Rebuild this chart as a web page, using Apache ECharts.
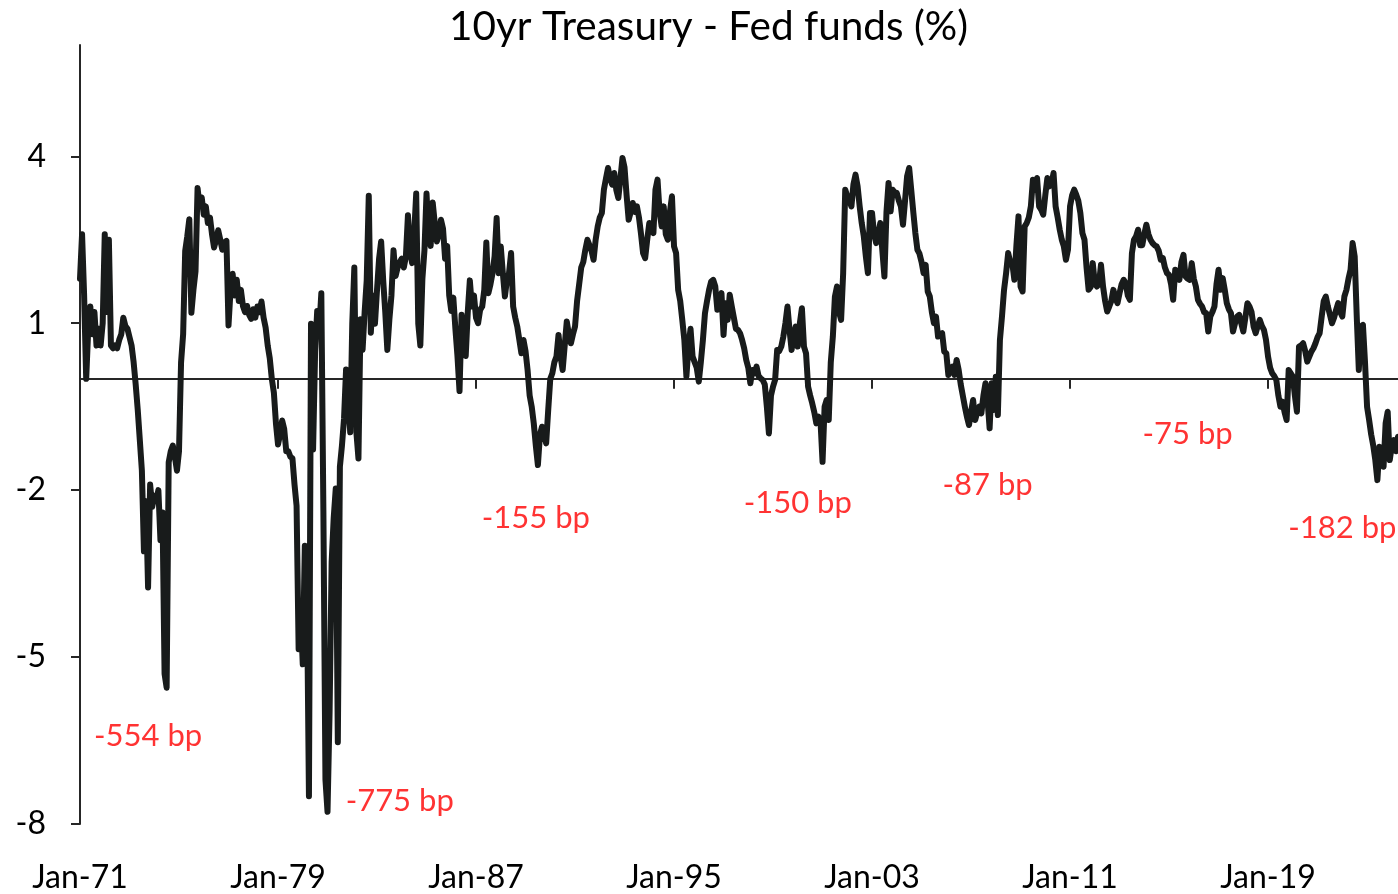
<!DOCTYPE html>
<html>
<head>
<meta charset="utf-8">
<script src="https://cdn.jsdelivr.net/npm/echarts@6/dist/echarts.min.js"></script>
<style>
html,body{margin:0;padding:0;background:#ffffff;}
#chart{width:1398px;height:894px;}
</style>
</head>
<body>
<div id="chart"></div>
<script>
// ---------- DATA ----------
const titleText = '10yr Treasury - Fed funds (%)';
const monthNames = ['Jan','Feb','Mar','Apr','May','Jun','Jul','Aug','Sep','Oct','Nov','Dec'];
const firstYear = 1971;

// 10yr Treasury minus Fed funds, %, monthly readings from the picture
const spread1971 = [1.8,2.6,1.5,0.0,0.9,1.3,0.8,1.2,0.6,0.9,0.6,1.0,
  2.6,1.2,2.5,0.6,0.55,0.6,0.55,0.7,0.8,1.1,0.95,0.9,
  0.75,0.6,0.3,-0.1,-0.56,-1.1,-1.65,-3.1,-2.2,-3.75,-1.9,-2.3,
  -2.1,-2.2,-2.0,-2.9,-2.4,-5.3,-5.55,-1.5,-1.3,-1.2,-1.4,-1.65,
  -1.3,0.3,0.8,2.3,2.56,2.87,1.19,1.6,1.93,3.43,3.1,3.26,
  2.95,3.1,2.8,2.9,2.6,2.36,2.5,2.67,2.5,2.32,2.45,2.48,
  0.96,1.6,1.89,1.5,1.78,1.4,1.6,1.31,1.2,1.31,1.15,1.08,
  1.25,1.1,1.3,1.2,1.39,1.1,0.92,0.6,0.37,0.0,-0.25,-0.8];
const spread1979 = [-1.18,-1.0,-0.75,-0.9,-1.3,-1.3,-1.4,-1.43,-1.9,-2.28,-4.86,-4.2,
  -5.13,-3.0,-3.7,-7.5,0.99,-1.27,0.5,1.22,0.9,1.54,-2.36,-7.2,
  -7.78,-6.0,-3.3,-2.5,-1.97,-6.53,-1.58,-1.2,-0.72,0.17,-0.3,-0.96,
  1.0,2.0,-0.96,-1.43,1.07,0.52,1.2,1.77,3.29,0.83,1.5,0.99,
  1.6,2.16,2.47,1.77,1.2,0.52,1.07,1.5,2.31,1.85,2.0,2.1,
  2.16,2.0,2.2,2.94,2.3,2.08,2.6,3.33,0.99,0.6,1.8,2.31,
  3.33,2.6,2.39,3.17,2.8,2.47,2.6,2.86,2.7,2.16,2.39,1.5,
  1.22,1.46,0.9,0.41,-0.22,1.15,0.6,0.41,1.2,1.77,1.3,1.5];
const spread1987 = [1.1,1.0,1.24,1.3,1.6,2.45,1.54,1.7,1.9,2.2,2.89,1.9,
  2.38,1.9,1.48,1.78,1.9,2.26,1.3,1.1,0.94,0.7,0.46,0.7,
  0.5,0.16,-0.3,-0.5,-0.8,-1.2,-1.55,-1.0,-0.86,-1.0,-1.16,-0.56,
  0.0,0.1,0.3,0.4,0.79,0.4,0.16,0.6,1.03,0.8,0.64,0.8,
  0.94,1.4,1.7,2.0,2.1,2.32,2.5,2.4,2.3,2.14,2.5,2.74,
  2.9,2.98,3.4,3.6,3.79,3.6,3.49,3.7,3.4,3.25,3.6,3.97,
  3.8,3.3,2.86,3.0,3.16,3.0,3.1,2.9,2.6,2.26,2.17,2.5,
  2.8,2.7,2.62,3.4,3.58,3.0,2.74,3.1,2.6,2.5,3.0,3.28];
const spread1995 = [2.38,2.26,1.6,1.4,1.06,0.7,0.04,0.58,0.9,0.4,0.3,0.2,
  -0.05,0.3,0.7,1.18,1.4,1.6,1.75,1.78,1.66,1.24,1.4,1.54,
  0.79,1.36,1.06,1.51,1.3,1.1,0.9,0.88,0.82,0.7,0.55,0.34,
  0.2,-0.08,0.16,0.1,0.22,0.05,0.01,-0.02,-0.1,-0.5,-0.98,-0.3,
  -0.14,-0.02,0.52,0.5,0.58,0.76,1.0,1.3,0.88,0.52,0.8,0.94,
  0.58,1.0,1.27,0.58,0.46,-0.14,-0.3,-0.44,-0.6,-0.8,-0.68,-0.75,
  -1.49,-0.5,-0.38,-0.74,0.3,0.76,1.48,1.66,1.2,1.06,1.9,3.4,
  3.28,3.2,3.1,3.5,3.67,3.46,3.1,2.8,2.56,2.2,1.9,2.98];
const spread2003 = [2.98,2.6,2.44,2.6,2.8,2.3,1.84,3.0,3.52,3.01,3.4,3.35,
  3.34,3.2,3.1,2.77,3.2,3.64,3.79,3.4,3.0,2.62,2.32,2.25,
  2.1,1.9,2.05,1.57,1.48,1.2,1.0,1.12,0.76,0.8,0.82,0.49,
  0.46,0.07,0.15,0.22,0.07,0.34,0.16,-0.1,-0.3,-0.5,-0.68,-0.83,
  -0.6,-0.38,-0.74,-0.6,-0.5,-0.62,-0.3,-0.08,-0.38,-0.89,-0.08,-0.56,
  0.04,-0.65,0.7,1.12,1.6,1.9,2.26,2.1,2.08,1.78,2.4,2.92,
  1.66,1.57,2.74,2.8,2.9,3.1,3.58,3.4,3.61,3.1,3.04,2.95,
  3.3,3.61,3.46,3.5,3.7,3.1,2.9,2.68,2.5,2.38,2.14,2.32];
const spread2011 = [3.1,3.3,3.4,3.31,3.2,2.98,2.62,2.5,2.0,1.6,1.65,2.08,
  1.72,1.66,1.7,2.05,1.66,1.4,1.21,1.3,1.4,1.6,1.45,1.36,
  1.54,1.7,1.78,1.72,1.5,1.42,2.26,2.5,2.56,2.68,2.4,2.4,
  2.6,2.77,2.6,2.5,2.44,2.4,2.38,2.3,2.14,2.17,2.0,1.9,
  1.87,1.7,1.42,1.96,1.85,1.78,2.1,2.23,1.84,1.8,1.78,2.08,
  1.8,1.66,1.42,1.35,1.3,1.2,1.18,0.85,1.12,1.2,1.3,1.7,
  1.96,1.6,1.81,1.6,1.36,1.25,1.18,0.85,1.0,1.12,1.15,1.0,
  0.85,1.1,1.36,1.3,1.2,0.94,0.82,0.95,1.06,0.95,0.88,0.7];
const spread2019 = [0.4,0.2,0.1,0.05,-0.02,-0.3,-0.5,-0.41,-0.6,-0.74,0.16,0.1,
  0.04,-0.3,-0.59,0.58,0.6,0.64,0.5,0.31,0.4,0.49,0.55,0.64,
  0.75,0.82,1.12,1.4,1.48,1.3,1.15,1.0,1.1,1.24,1.36,1.2,
  1.12,1.48,1.6,1.8,1.96,2.44,2.2,1.12,0.16,0.94,0.97,0.3,
  -0.5,-0.74,-1.0,-1.2,-1.46,-1.82,-1.22,-1.4,-1.58,-0.8,-0.59,-1.46,
  -1.2,-1.1,-1.3,-1.04];

const yTickValues = [-8, -5, -2, 1, 4];

const annotationText  = ['-554 bp', '-775 bp', '-155 bp', '-150 bp', '-87 bp', '-75 bp', '-182 bp'];
const annotationMonth = ['Oct-73', 'Dec-83', 'Jun-89', 'Jan-00', 'Sep-07', 'Oct-15', 'Jan-22'];
const annotationValue = [-6.41, -7.58, -2.5, -2.23, -1.91, -0.99, -2.68];

// ---------- BUILD ----------
const values = [].concat(spread1971, spread1979, spread1987, spread1995, spread2003, spread2011, spread2019);
const categories = values.map(function (_, i) {
  const yr = (firstYear + Math.floor(i / 12)) % 100;
  return monthNames[i % 12] + '-' + String(yr).padStart(2, '0');
});

const FONT = 'Lato, "Open Sans", sans-serif';
const AXIS_COLOR = '#262626';

const chart = echarts.init(document.getElementById('chart'), null, {renderer: 'canvas'});
chart.setOption({
  animation: false,
  backgroundColor: '#ffffff',
  title: {
    text: titleText,
    left: 444,
    top: 1,
    padding: [5, 5, 5, 5],
    textStyle: {fontFamily: FONT, fontSize: 40.5, fontWeight: 'normal', color: '#000000'}
  },
  grid: {left: 80, right: 0, top: 45, bottom: 70, containLabel: false, outerBoundsMode: 'none'},
  xAxis: [
    {
      type: 'category', data: categories, boundaryGap: false, position: 'bottom',
      axisLine: {show: true, onZero: true, lineStyle: {color: AXIS_COLOR, width: 2}},
      axisTick: {show: true, interval: 95, length: 10, lineStyle: {color: AXIS_COLOR, width: 2}},
      axisLabel: {show: false},
      splitLine: {show: false}
    },
    {
      type: 'category', data: categories, boundaryGap: false, position: 'bottom',
      axisLine: {show: false, onZero: false},
      axisTick: {show: false},
      axisLabel: {show: true, interval: 95, color: '#000000', fontFamily: FONT, fontSize: 32, margin: 38},
      splitLine: {show: false}
    }
  ],
  yAxis: {
    type: 'value', min: -8, max: 6, interval: 3,
    axisLine: {show: true, onZero: false, lineStyle: {color: AXIS_COLOR, width: 2}},
    axisTick: {show: true, length: 9, customValues: yTickValues, lineStyle: {color: AXIS_COLOR, width: 2}},
    axisLabel: {show: true, customValues: yTickValues, color: '#000000', fontFamily: FONT, fontSize: 32, margin: 34},
    splitLine: {show: false}
  },
  series: [
    {
      name: 'spread', type: 'line', xAxisIndex: 0, yAxisIndex: 0,
      data: values, showSymbol: false, symbol: 'none',
      lineStyle: {color: '#181b1b', width: 6, cap: 'round', join: 'round'},
      z: 3
    },
    {
      name: 'annotations', type: 'scatter', xAxisIndex: 0, yAxisIndex: 0,
      symbolSize: 1, itemStyle: {color: 'rgba(0,0,0,0)'},
      data: annotationMonth.map(function (m, k) { return {name: annotationText[k], value: [m, annotationValue[k]]}; }),
      label: {show: true, position: 'inside', formatter: '{b}', color: '#ff0000', fontFamily: FONT, fontSize: 31},
      z: 4, silent: true
    }
  ]
});
</script>
</body>
</html>
